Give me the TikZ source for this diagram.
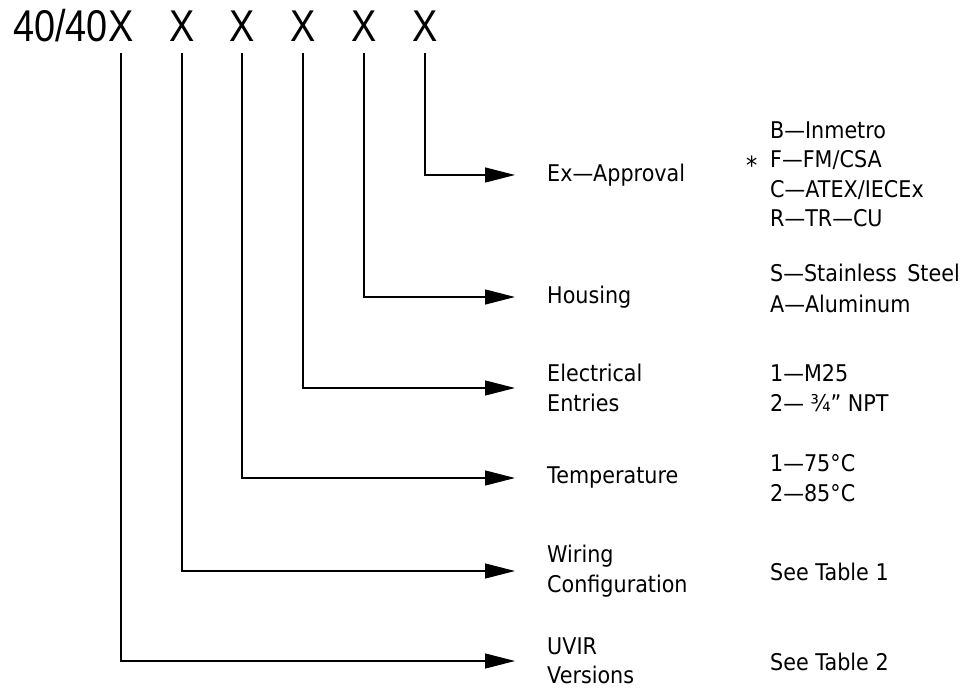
\documentclass[tikz,border=0pt]{standalone}
\usepackage{fontspec}
\setmainfont{DejaVu Sans}[FakeStretch=0.9]
\newfontfamily\hdrfont{Liberation Sans}[FakeStretch=0.85]
\usetikzlibrary{arrows.meta}
\begin{document}
\begin{tikzpicture}[x=1pt,y=-1pt,
  hdr/.style={font=\hdrfont\fontsize{44.5}{50}\selectfont, inner sep=0pt},
  lbl/.style={font=\fontsize{23}{29.5}\selectfont, inner sep=0pt, anchor=west, align=left},
  opt/.style={lbl},
  conn/.style={line width=1.3pt, draw=black, shorten <=11pt, shorten >=32pt,
    -{Triangle[length=30pt,width=15pt]}}]
\useasboundingbox (0,0) rectangle (961,692);
% header
\node[hdr] (x1) at (121,26) {X};
\node[hdr] (x2) at (182,26) {X};
\node[hdr] (x3) at (242,26) {X};
\node[hdr] (x4) at (303,26) {X};
\node[hdr] (x5) at (364,26) {X};
\node[hdr] (x6) at (425,26) {X};
\node[hdr, anchor=base east] (pre) at (x1.base west) {40/40};
% labels
\node[lbl] (exa) at (547,175) {Ex—Approval};
\node[lbl] (hou) at (547,297) {Housing};
\node[lbl] (ele) at (547,388) {Electrical\\Entries};
\node[lbl] (tem) at (547,478) {Temperature};
\node[lbl] (wir) at (547,571) {Wiring\\Configuration};
\node[lbl] (uvi) at (547,661) {UVIR\\Versions};
% options
\node[opt] (exo) at (770,174.5) {B—Inmetro\\F—FM/CSA\\C—ATEX/IECEx\\R—TR—CU};
\node[opt, font=\fontsize{25}{29.5}\selectfont] (star) at (746,165) {*};
\node[opt, font=\fontsize{23}{31}\selectfont] (hoo) at (770,288) {S—Stainless\hspace{0.45em}Steel\\A—Aluminum};
\node[opt] (elo) at (770,388) {1—M25\\2— ¾" NPT};
\node[opt] (teo) at (770,478) {1—75°C\\2—85°C};
\node[opt] (wio) at (770,572) {See Table 1};
\node[opt] (uvo) at (770,662) {See Table 2};
% connectors
\draw[conn] (x6.south) |- (exa.west);
\draw[conn] (x5.south) |- (hou.west);
\draw[conn] (x4.south) |- (ele.west);
\draw[conn] (x3.south) |- (tem.west);
\draw[conn] (x2.south) |- (wir.west);
\draw[conn] (x1.south) |- (uvi.west);
\end{tikzpicture}
\end{document}
